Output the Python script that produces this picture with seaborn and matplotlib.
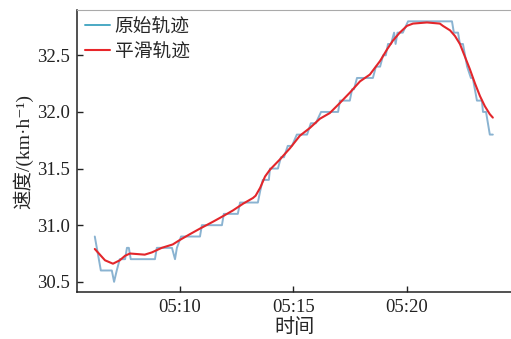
import pandas as pd
import matplotlib
matplotlib.use('Agg')
import matplotlib.pyplot as plt
import matplotlib.dates as mdates
import seaborn as sns

# raw track (step points)
raw_time = ["05:06:15", "05:06:31", "05:07:00", "05:07:06", "05:07:13", "05:07:21", "05:07:35",
            "05:07:40", "05:07:45", "05:07:50", "05:08:54", "05:08:59", "05:09:39", "05:09:47",
            "05:09:52", "05:10:03", "05:10:53", "05:10:58", "05:11:51", "05:11:56", "05:12:33",
            "05:12:39", "05:13:26", "05:13:32", "05:13:39", "05:13:55", "05:13:58", "05:14:19",
            "05:14:27", "05:14:35", "05:14:45", "05:14:56", "05:15:09", "05:15:36", "05:15:46",
            "05:15:59", "05:16:13", "05:16:58", "05:17:03", "05:17:29", "05:17:35", "05:17:40",
            "05:17:48", "05:18:30", "05:18:38", "05:18:49", "05:18:57", "05:19:04", "05:19:10",
            "05:19:18", "05:19:26", "05:19:30", "05:19:35", "05:19:49", "05:20:03", "05:21:59",
            "05:22:04", "05:22:15", "05:22:20", "05:22:28", "05:22:39", "05:22:49", "05:22:54",
            "05:23:05", "05:23:18", "05:23:21", "05:23:29", "05:23:39", "05:23:47"]
raw_speed = [30.9, 30.6, 30.6, 30.5, 30.6, 30.7, 30.7,
             30.8, 30.8, 30.7, 30.7, 30.8, 30.8, 30.7,
             30.8, 30.9, 30.9, 31.0, 31.0, 31.1, 31.1,
             31.2, 31.2, 31.3, 31.4, 31.4, 31.5, 31.5,
             31.6, 31.6, 31.7, 31.7, 31.8, 31.8, 31.9,
             31.9, 32.0, 32.0, 32.1, 32.1, 32.2, 32.2,
             32.3, 32.3, 32.4, 32.4, 32.5, 32.5, 32.6,
             32.6, 32.7, 32.6, 32.7, 32.7, 32.8, 32.8,
             32.7, 32.7, 32.6, 32.6, 32.4, 32.3, 32.3,
             32.1, 32.1, 32.0, 32.0, 31.8, 31.8]

# smoothed track
smooth_time = ["05:06:15", "05:06:42", "05:07:03", "05:07:21", "05:07:35", "05:07:48", "05:08:27",
               "05:08:46", "05:09:12", "05:09:41", "05:10:00", "05:10:26", "05:10:53", "05:11:27",
               "05:11:54", "05:12:20", "05:12:47", "05:13:13", "05:13:20", "05:13:32", "05:13:45",
               "05:13:58", "05:14:24", "05:14:51", "05:15:17", "05:15:44", "05:16:10", "05:16:36",
               "05:17:03", "05:17:29", "05:17:56", "05:18:22", "05:18:49", "05:19:07", "05:19:23",
               "05:19:41", "05:20:00", "05:20:16", "05:20:53", "05:21:27", "05:21:35", "05:21:54",
               "05:22:07", "05:22:20", "05:22:33", "05:22:46", "05:23:00", "05:23:13", "05:23:26",
               "05:23:39", "05:23:47"]
smooth_speed = [30.79, 30.69, 30.66, 30.69, 30.73, 30.75, 30.74,
                30.76, 30.80, 30.83, 30.87, 30.92, 30.97, 31.03,
                31.08, 31.13, 31.19, 31.24, 31.26, 31.33, 31.43,
                31.49, 31.58, 31.68, 31.79, 31.86, 31.94, 31.99,
                32.08, 32.17, 32.27, 32.33, 32.45, 32.55, 32.63,
                32.70, 32.76, 32.78, 32.79, 32.78, 32.76, 32.72,
                32.67, 32.60, 32.49, 32.38, 32.25, 32.14, 32.05,
                31.98, 31.95]

day = "2020-01-01 "
df_raw = pd.DataFrame({"time": pd.to_datetime([day + t for t in raw_time]), "speed": raw_speed})
df_smooth = pd.DataFrame({"time": pd.to_datetime([day + t for t in smooth_time]), "speed": smooth_speed})

sns.set_style("ticks")
plt.rcParams['font.family'] = ['Liberation Serif', 'Noto Sans CJK SC', 'DejaVu Sans']
plt.rcParams['font.size'] = 13

fig = plt.figure(figsize=(5.11, 3.39), dpi=100)
ax = fig.add_axes([0.1507, 0.1386, 0.8493, 0.8319])

sns.lineplot(data=df_raw, x="time", y="speed", ax=ax, color="#8AB3D1", linewidth=1.4, label="原始轨迹")
sns.lineplot(data=df_smooth, x="time", y="speed", ax=ax, color="#E3262B", linewidth=1.5, label="平滑轨迹")

ax.set_xlim(pd.Timestamp(day + "05:05:28"), pd.Timestamp(day + "05:24:35"))
ax.set_ylim(30.41, 32.90)
ax.set_yticks([30.5, 31.0, 31.5, 32.0, 32.5])
ax.xaxis.set_major_locator(mdates.MinuteLocator(byminute=[10, 15, 20]))
ax.xaxis.set_major_formatter(mdates.DateFormatter("%H:%M"))
ax.tick_params(direction='in', length=4, width=1, colors='#222222', labelsize=13.5, pad=5)

ax.set_xlabel("时间", fontsize=14.5, labelpad=2)
ax.set_ylabel("速度/(km·h⁻¹)", fontsize=14, labelpad=3)

for side in ['left', 'bottom']:
    ax.spines[side].set_color('#222222')
    ax.spines[side].set_linewidth(1.1)
ax.spines['top'].set_color('#aaaaaa')
ax.spines['right'].set_visible(False)

leg = ax.legend(loc='upper left', frameon=False, fontsize=13.5, handlelength=1.3,
                handletextpad=0.25, borderaxespad=0.05, labelspacing=0.42)
leg.get_lines()[0].set_color('#4BA9C4')
leg.get_lines()[1].set_color('#E8262A')

fig.savefig("out.png", dpi=100)
